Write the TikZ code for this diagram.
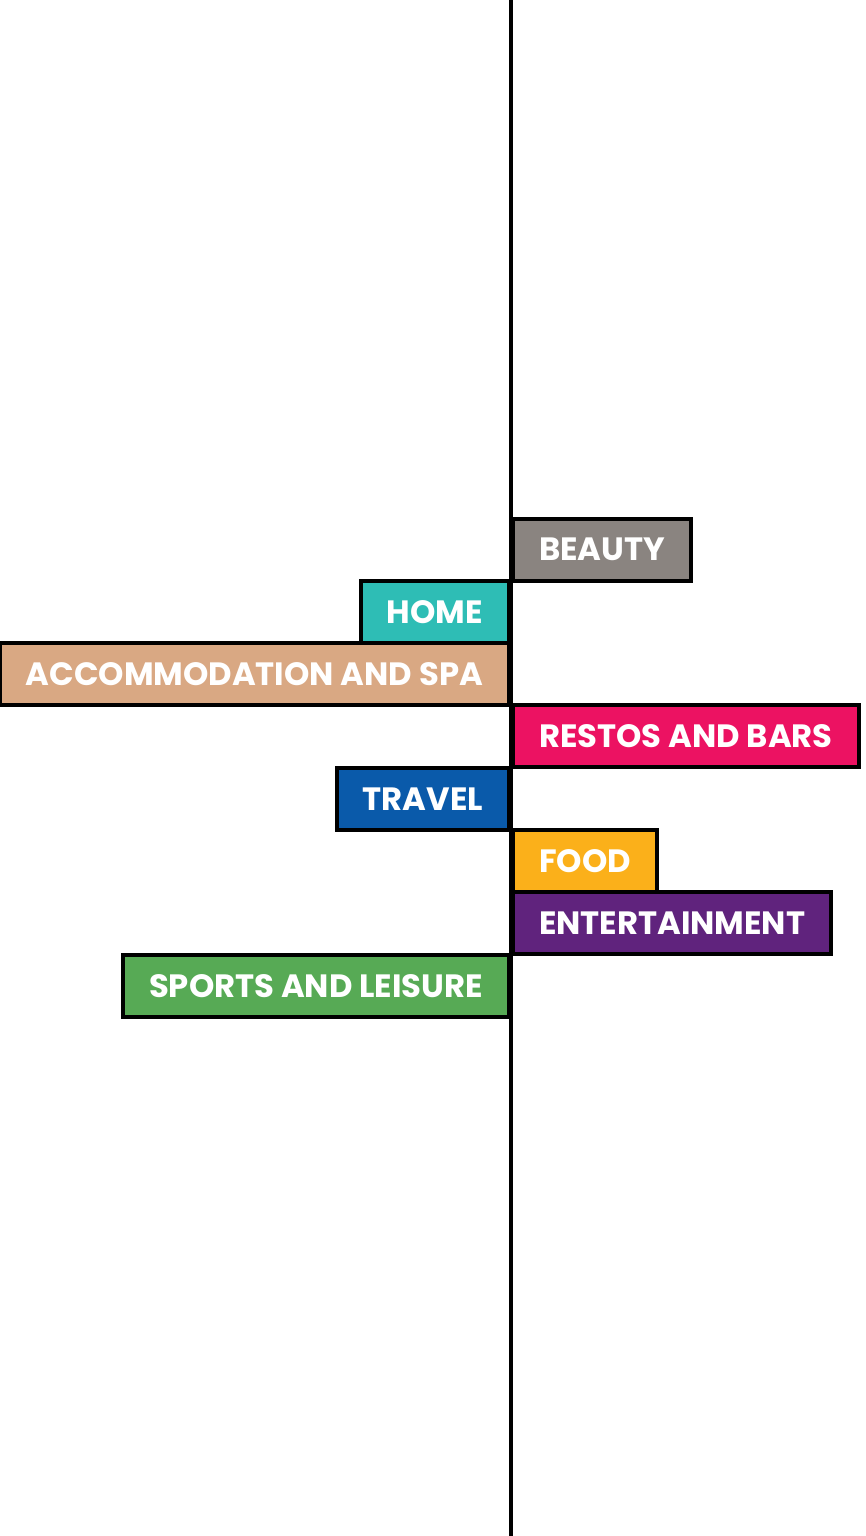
\documentclass[tikz,border=0pt]{standalone}
\usepackage{fontspec}
\setmainfont{Poppins}
\definecolor{beautygrey}{HTML}{8A8480}
\definecolor{hometeal}{HTML}{2EBDB5}
\definecolor{spatan}{HTML}{D9A883}
\definecolor{restopink}{HTML}{EC1262}
\definecolor{travelblue}{HTML}{0A5AAA}
\definecolor{foodyellow}{HTML}{FBB01A}
\definecolor{funpurple}{HTML}{60237D}
\definecolor{sportgreen}{HTML}{57AA55}
\begin{document}
\begin{tikzpicture}[x=0.75pt,y=-0.75pt,
    cat/.style={draw=black, line width=3pt, minimum height=46.5pt, inner xsep=19.5pt,
        text=white, font=\fontsize{24.2}{28}\selectfont\bfseries,
        text height=17.2pt, text depth=0pt},
    right cat/.style={cat, anchor=west},
    left cat/.style={cat, anchor=east}]
    \useasboundingbox (0,0) rectangle (865,1536);
    \fill[white] (0,0) rectangle (865,1536);

    % axis
    \coordinate (top) at (511,0);
    \coordinate (bottom) at (511,1536);
    \draw[line width=3pt] (top) -- (bottom);

    % categories
    \node[right cat, fill=beautygrey] (beauty) at (511,549.5) {BEAUTY};
    \node[left cat, fill=hometeal] (home) at (511,611.8) {HOME};
    \node[left cat, fill=spatan] (spa) at (511,674.1) {ACCOMMODATION AND SPA};
    \node[right cat, fill=restopink] (restos) at (511,736.4) {RESTOS AND BARS};
    \node[left cat, fill=travelblue] (travel) at (511,798.7) {TRAVEL};
    \node[right cat, fill=foodyellow] (food) at (511,861) {FOOD};
    \node[right cat, fill=funpurple] (fun) at (511,923.3) {ENTERTAINMENT};
    \node[left cat, fill=sportgreen] (sports) at (511,985.6) {SPORTS AND LEISURE};

\end{tikzpicture}
\end{document}
